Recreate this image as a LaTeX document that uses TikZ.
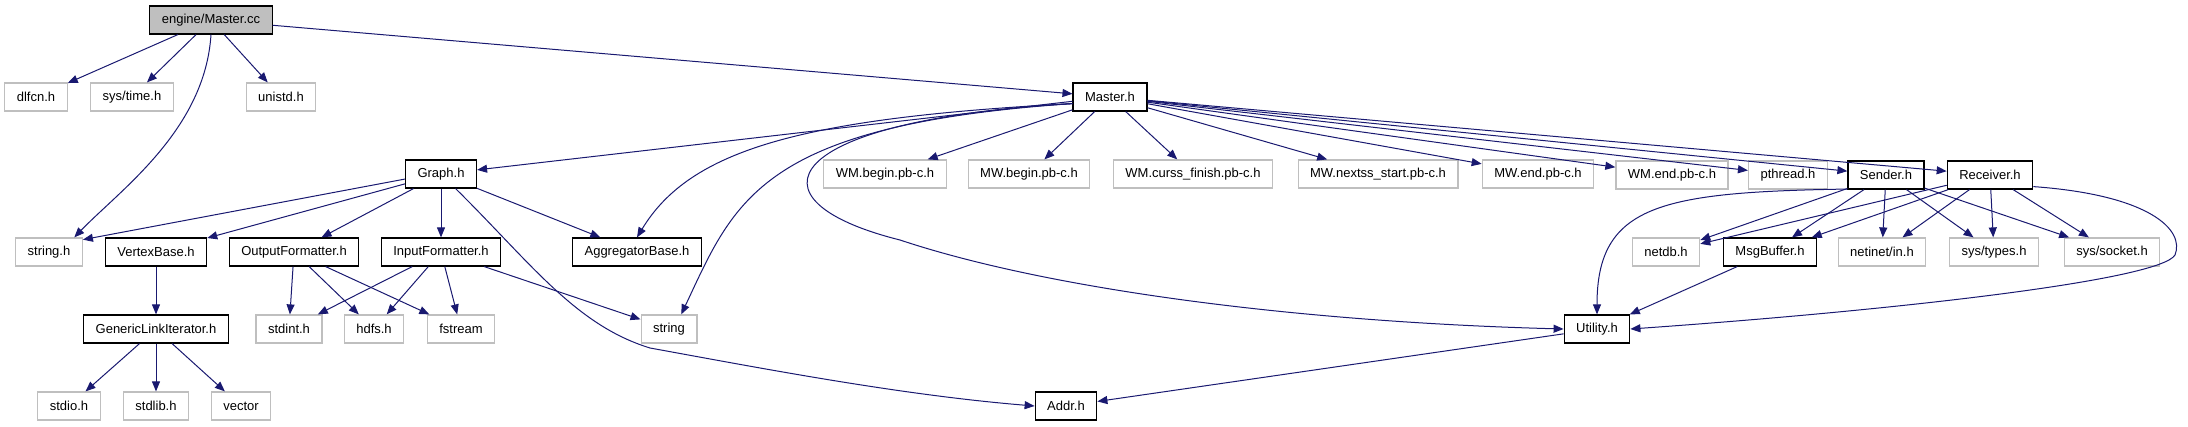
\documentclass[tikz,border=0pt]{standalone}
\usepackage{fontspec}
\setmainfont{Liberation Sans}
\usetikzlibrary{arrows.meta}
\definecolor{edgeblue}{HTML}{191970}
\definecolor{grey75}{HTML}{BFBFBF}
\begin{document}
\begin{tikzpicture}[
  x=1pt,y=-1pt,font=\fontsize{13}{15}\selectfont,line width=1pt,
  every node/.style={inner xsep=12pt,inner ysep=0pt,minimum height=28pt},
  filebox/.style={draw=black,fill=white,line width=1.2pt},
  sysbox/.style={draw=grey75,fill=white,line width=1.2pt},
  rootbox/.style={draw=black,fill=grey75,line width=1.2pt},
  dep/.style={draw=edgeblue,line width=1pt,-{Triangle[length=10pt,width=8pt]}}
]
  \useasboundingbox (0,0) rectangle (2188,427);

  \node[rootbox] (mastercc) at (211,20) {engine/Master.cc};
  \node[sysbox] (dlfcn) at (36,97) {dlfcn.h};
  \node[sysbox] (systime) at (132,97) {sys/time.h};
  \node[sysbox] (unistd) at (281,97) {unistd.h};
  \node[filebox] (masterh) at (1110,97) {Master.h};

  \node[filebox] (graph) at (441,174) {Graph.h};
  \node[sysbox] (wmbegin) at (885,174) {WM.begin.pb-c.h};
  \node[sysbox] (mwbegin) at (1029,174) {MW.begin.pb-c.h};
  \node[sysbox] (wmcurss) at (1193,174) {WM.curss\_finish.pb-c.h};
  \node[sysbox] (mwnextss) at (1378,174) {MW.nextss\_start.pb-c.h};
  \node[sysbox] (mwend) at (1538,174) {MW.end.pb-c.h};
  \node[sysbox] (wmend) at (1672,175) {WM.end.pb-c.h};
  \node[sysbox] (pthread) at (1788,175) {pthread.h};
  \node[filebox] (sender) at (1886,175) {Sender.h};
  \node[filebox] (receiver) at (1990,175) {Receiver.h};

  \node[sysbox] (strh) at (49,252) {string.h};
  \node[filebox] (vertex) at (156,252) {VertexBase.h};
  \node[filebox] (outfmt) at (294,252) {OutputFormatter.h};
  \node[filebox] (infmt) at (441,252) {InputFormatter.h};
  \node[filebox] (aggr) at (637,252) {AggregatorBase.h};
  \node[sysbox] (netdb) at (1666,252) {netdb.h};
  \node[filebox] (msgbuf) at (1770,252) {MsgBuffer.h};
  \node[sysbox] (netinet) at (1882,252) {netinet/in.h};
  \node[sysbox] (systypes) at (1994,252) {sys/types.h};
  \node[sysbox] (syssocket) at (2112,252) {sys/socket.h};

  \node[filebox] (linkiter) at (156,329) {GenericLinkIterator.h};
  \node[sysbox] (stdint) at (289,329) {stdint.h};
  \node[sysbox] (hdfs) at (374,329) {hdfs.h};
  \node[sysbox] (fstream) at (461,329) {fstream};
  \node[sysbox] (strg) at (669,329) {string};
  \node[filebox] (util) at (1597,329) {Utility.h};

  \node[sysbox] (stdio) at (69,406) {stdio.h};
  \node[sysbox] (stdlib) at (156,406) {stdlib.h};
  \node[sysbox] (vector) at (241,406) {vector};
  \node[filebox] (addr) at (1066,406) {Addr.h};

  % engine/Master.cc
  \draw[dep] (mastercc) -- (dlfcn);
  \draw[dep] (mastercc) -- (systime);
  \draw[dep] (mastercc) -- (unistd);
  \draw[dep] (mastercc.south) .. controls (205,130) and (120,190) .. (strh.30);
  \draw[dep] (mastercc) -- (masterh);

  % Master.h
  \draw[dep] (masterh) -- (graph);
  \draw[dep] (masterh.190) .. controls (800,118) and (690,150) .. (aggr.north);
  \draw[dep] (masterh.190) .. controls (760,125) and (735,200) .. (strg.50);
  \draw[dep] (masterh.190) .. controls (780,120) and (740,200) .. (900,240)
    .. controls (1050,290) and (1300,322) .. (util.west);
  \foreach \dst in {wmbegin,mwbegin,wmcurss,mwnextss,mwend,wmend,pthread,sender,receiver}
    \draw[dep] (masterh) -- (\dst);

  % Graph.h
  \draw[dep] (graph.188) -- (strh.20);
  \foreach \dst in {vertex,outfmt,infmt,aggr}
    \draw[dep] (graph) -- (\dst);
  \draw[dep] (graph.-45) .. controls (530,262) and (575,325) .. (650,348)
    .. controls (760,368) and (900,395) .. (addr.west);

  \draw[dep] (vertex) -- (linkiter);
  \foreach \dst in {stdio,stdlib,vector}
    \draw[dep] (linkiter) -- (\dst);
  \foreach \dst in {stdint,hdfs,fstream}
    \draw[dep] (outfmt) -- (\dst);
  \foreach \dst in {stdint,hdfs,fstream,strg}
    \draw[dep] (infmt) -- (\dst);

  % Sender.h and Receiver.h
  \foreach \dst in {netdb,msgbuf,netinet,systypes,syssocket} {
    \draw[dep] (sender) -- (\dst);
    \draw[dep] (receiver) -- (\dst);
  }
  \draw[dep] (sender.200) .. controls (1660,192) and (1597,205) .. (util.north);
  \draw[dep] (receiver.-15) .. controls (2150,195) and (2185,230) .. (2175,255)
    .. controls (2160,280) and (1900,310) .. (util.east);
  \draw[dep] (msgbuf) -- (util);
  \draw[dep] (util) -- (addr);
\end{tikzpicture}
\end{document}
